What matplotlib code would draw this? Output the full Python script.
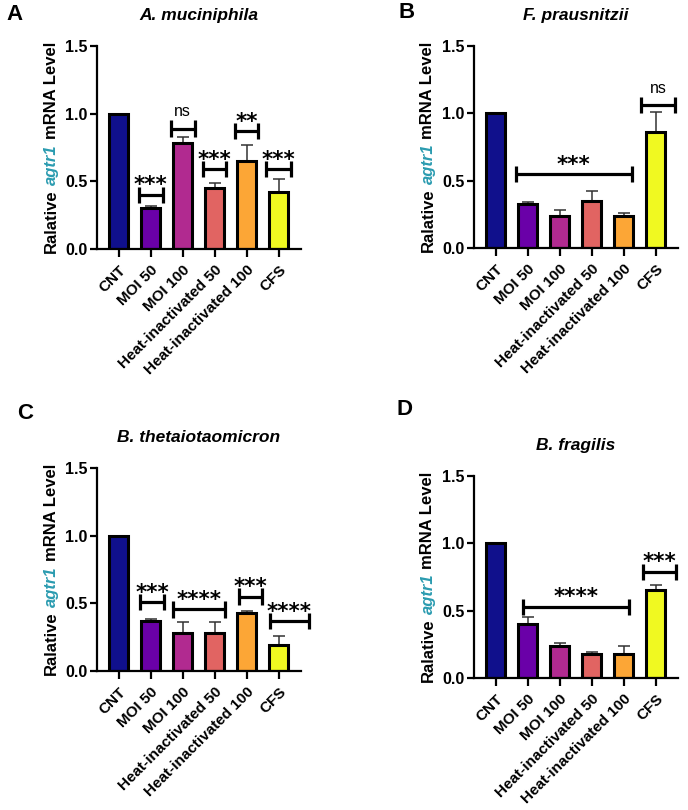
import numpy as np
import matplotlib
matplotlib.use("Agg")
import matplotlib.pyplot as plt
from matplotlib.transforms import IdentityTransform

plt.rcParams['font.family'] = ['Liberation Sans', 'DejaVu Sans']

# ---------------------------------------------------------------- data
groups = ["CNT", "MOI 50", "MOI 100", "Heat-inactivated 50",
          "Heat-inactivated 100", "CFS"]
bar_colors = ["#10108c", "#6a00a8", "#b12a90", "#e16462", "#fca636", "#f0f921"]

akk_mean = [1.0, 0.30, 0.78, 0.45, 0.65, 0.42]
akk_err = [0.0, 0.02, 0.05, 0.04, 0.12, 0.10]
fpr_mean = [1.0, 0.33, 0.24, 0.35, 0.24, 0.86]
fpr_err = [0.0, 0.01, 0.04, 0.07, 0.02, 0.15]
bth_mean = [1.0, 0.37, 0.28, 0.28, 0.43, 0.19]
bth_err = [0.0, 0.015, 0.08, 0.08, 0.015, 0.07]
bfr_mean = [1.0, 0.40, 0.24, 0.18, 0.18, 0.65]
bfr_err = [0.0, 0.055, 0.02, 0.015, 0.06, 0.04]

# significance brackets: (x start, x end, height, label)
akk_sig = [(0.63, 1.37, 0.40, "***"), (1.63, 2.37, 0.89, "ns"),
           (2.63, 3.37, 0.59, "***"), (3.63, 4.37, 0.87, "**"),
           (4.62, 5.38, 0.59, "***")]
fpr_sig = [(0.62, 4.25, 0.55, "***"), (4.55, 5.62, 1.06, "ns")]
bth_sig = [(0.66, 1.42, 0.51, "***"), (1.69, 3.31, 0.455, "****"),
           (3.75, 4.47, 0.55, "***"), (4.72, 5.95, 0.37, "****")]
bfr_sig = [(0.84, 4.16, 0.53, "****"), (4.6, 5.63, 0.79, "***")]

panels = [
    ("A", "A. muciniphila", akk_mean, akk_err, akk_sig),
    ("B", "F. prausnitzii", fpr_mean, fpr_err, fpr_sig),
    ("C", "B. thetaiotaomicron", bth_mean, bth_err, bth_sig),
    ("D", "B. fragilis", bfr_mean, bfr_err, bfr_sig),
]

# axes rectangles and panel letter positions (pixels)
W, H = 688, 810
rects = [(97, 46, 301, 249), (474, 46, 678, 248),
         (97, 468, 301, 671), (474, 476, 678, 678)]
letters = [(14, 15), (407, 13), (25, 414), (404, 409)]

fig = plt.figure(figsize=(W / 100, H / 100), dpi=100)
axes_list = []
x = np.arange(len(groups))

for (letter, title, mean, err, sig), (l, t, r, b), (lx, ly) in zip(panels, rects, letters):
    ax = fig.add_axes([l / W, 1 - b / H, (r - l) / W, (b - t) / H])
    axes_list.append(ax)

    ax.errorbar(x, mean, yerr=[np.zeros(len(err)), err], fmt="none",
                ecolor="#333333", elinewidth=1.1, capsize=4.5, capthick=1.1, zorder=1)
    ax.bar(x, mean, width=0.6, color=bar_colors, edgecolor="black",
           linewidth=2.2, zorder=2)

    for x0, x1, y, lab in sig:
        ax.plot([x0, x1], [y, y], color="black", lw=2.3, clip_on=False,
                solid_capstyle="butt")
        for xx in (x0, x1):
            ax.plot([xx, xx], [y - 0.06, y + 0.06], color="black", lw=2.3,
                    clip_on=False, solid_capstyle="butt")
        if lab == "ns":
            ax.text((x0 + x1) / 2, y + 0.09, lab, ha="center", va="baseline",
                    fontsize=11.5)
        else:
            ax.text((x0 + x1) / 2, y + 0.025, lab, ha="center", va="baseline",
                    fontsize=15.5, fontweight="bold", family="DejaVu Sans")

    ax.set_xlim(-0.68, 5.7)
    ax.set_ylim(0, 1.5)
    ax.set_yticks([0, 0.5, 1.0, 1.5])
    ax.set_yticklabels(["0.0", "0.5", "1.0", "1.5"], fontsize=11.5,
                       fontweight="bold")
    ax.set_xticks(x)
    ax.set_xticklabels(groups, rotation=45, ha="right", rotation_mode="anchor",
                       fontsize=11, fontweight="bold")
    for s in ("top", "right"):
        ax.spines[s].set_visible(False)
    for s in ("left", "bottom"):
        ax.spines[s].set_linewidth(1.6)
    ax.tick_params(axis="both", width=1.6, length=5, pad=2)
    ax.tick_params(axis="x", length=6, pad=4)

    ax.set_title(title, fontsize=12.5, fontweight="bold", style="italic", pad=19)
    fig.text(lx / W, 1 - ly / H, letter, fontsize=16, fontweight="bold",
             ha="center", va="center")

# y label with coloured italic gene name, assembled from pieces
fig.canvas.draw()
renderer = fig.canvas.get_renderer()
label_parts = [("Ralative", "normal", "black"), ("agtr1", "italic", "#2a9bb0"),
               ("mRNA Level", "normal", "black")]
fs = 12
gap = 0.28 * fs * 100 / 72
for ax in axes_list:
    bb = ax.get_window_extent(renderer)
    texts = []
    for s, st, c in label_parts:
        tx = fig.text(0, 0, s, rotation=90, fontsize=fs, fontweight="bold",
                      style=st, color=c, ha="center", va="bottom",
                      transform=IdentityTransform())
        texts.append(tx)
    sizes = [tx.get_window_extent(renderer).height for tx in texts]
    total = sum(sizes) + gap * (len(sizes) - 1)
    y0 = (bb.y0 + bb.y1) / 2 - total / 2
    xc = bb.x0 - 46
    for tx, h in zip(texts, sizes):
        tx.set_position((xc, y0))
        y0 += h + gap

fig.savefig("out.png", dpi=100)
